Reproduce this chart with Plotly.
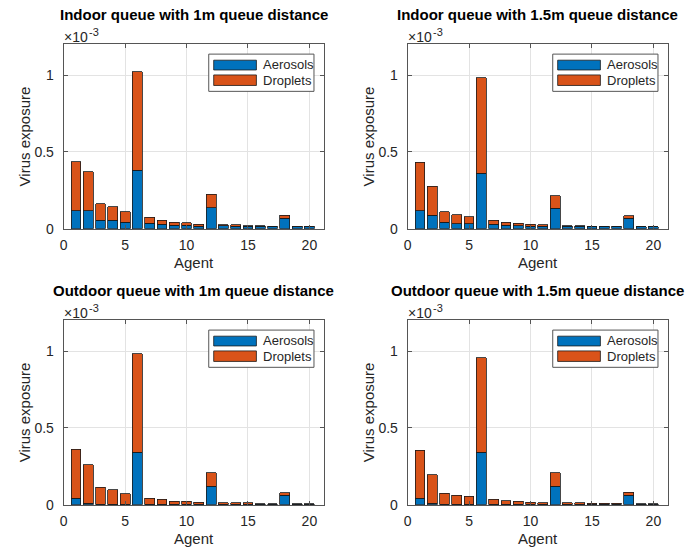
import plotly.graph_objects as go

# Agent indices (x axis)
agents = list(range(1, 21))

# Virus exposure per agent, in units of 1e-3 (axis carries the x10^-3 multiplier)
indoor_1m_aerosols = [0.118, 0.116, 0.056, 0.054, 0.043, 0.381, 0.034, 0.028, 0.021, 0.021,
                      0.017, 0.135, 0.019, 0.015, 0.015, 0.017, 0.016, 0.069, 0.014, 0.013]
indoor_1m_droplets = [0.317, 0.254, 0.107, 0.089, 0.066, 0.640, 0.039, 0.028, 0.020, 0.017,
                      0.011, 0.088, 0.005, 0.009, 0.004, 0.002, 0.001, 0.019, 0.001, 0.002]

indoor_15m_aerosols = [0.118, 0.088, 0.041, 0.032, 0.032, 0.362, 0.028, 0.021, 0.019, 0.017,
                       0.017, 0.133, 0.017, 0.016, 0.015, 0.015, 0.015, 0.069, 0.012, 0.012]
indoor_15m_droplets = [0.315, 0.188, 0.070, 0.060, 0.047, 0.621, 0.028, 0.022, 0.015, 0.011,
                       0.009, 0.081, 0.002, 0.003, 0.002, 0.002, 0.002, 0.015, 0.001, 0.001]

outdoor_1m_aerosols = [0.041, 0.009, 0.002, 0.002, 0.002, 0.340, 0.002, 0.002, 0.001, 0.001,
                       0.001, 0.120, 0.001, 0.001, 0.001, 0.001, 0.001, 0.060, 0.001, 0.001]
outdoor_1m_droplets = [0.319, 0.250, 0.111, 0.094, 0.069, 0.641, 0.041, 0.032, 0.020, 0.020,
                       0.014, 0.086, 0.010, 0.010, 0.010, 0.005, 0.005, 0.019, 0.005, 0.005]

outdoor_15m_aerosols = [0.041, 0.009, 0.002, 0.002, 0.002, 0.340, 0.002, 0.002, 0.001, 0.001,
                        0.001, 0.120, 0.001, 0.001, 0.001, 0.001, 0.001, 0.060, 0.001, 0.001]
outdoor_15m_droplets = [0.314, 0.186, 0.071, 0.058, 0.052, 0.615, 0.032, 0.024, 0.020, 0.016,
                        0.012, 0.086, 0.010, 0.010, 0.008, 0.008, 0.008, 0.021, 0.005, 0.005]

titles = ["Indoor queue with 1m queue distance",
          "Indoor queue with 1.5m queue distance",
          "Outdoor queue with 1m queue distance",
          "Outdoor queue with 1.5m queue distance"]
series = [(indoor_1m_aerosols, indoor_1m_droplets),
          (indoor_15m_aerosols, indoor_15m_droplets),
          (outdoor_1m_aerosols, outdoor_1m_droplets),
          (outdoor_15m_aerosols, outdoor_15m_droplets)]
series_names = ["Aerosols", "Droplets"]
y_ticks = [0, 0.5, 1]
y_tick_labels = ["0", "0.5", "1"]
x_ticks = [0, 5, 10, 15, 20]
exp_base, exp_power = "\u00d710", "-3"

BLUE = "#0072BD"
ORANGE = "#D95319"
FONT = "Liberation Sans, Arial, Helvetica, sans-serif"
TXT = "#262626"

W, H = 690, 556
# pixel boxes of the four axes: (left, right, top, bottom)
boxes = [(60, 322, 45, 232), (406, 668, 45, 232),
         (60, 322, 325, 512), (406, 668, 325, 512)]

fig = go.Figure()
layout = dict(width=W, height=H, margin=dict(l=0, r=0, t=0, b=0),
              paper_bgcolor="white", plot_bgcolor="white",
              barmode="stack", bargap=0.2, showlegend=False,
              font=dict(family=FONT, color=TXT, size=13))
annotations = []
shapes = []


def px_note(text, x, y, size, color=TXT, xanchor="left", angle=0):
    """Annotation placed by pixel position (from top-left of the page)."""
    return dict(text=text, x=x / W, y=1 - y / H, xref="paper", yref="paper",
                showarrow=False, xanchor=xanchor, yanchor="middle", textangle=angle,
                font=dict(family=FONT, size=size, color=color))


for i, ((aer, dro), title, (l, r, t, b)) in enumerate(zip(series, titles, boxes)):
    n = "" if i == 0 else str(i + 1)
    xa, ya = "x" + n, "y" + n
    for vals, color, name in zip((aer, dro), (BLUE, ORANGE), series_names):
        fig.add_trace(go.Bar(x=agents, y=vals, name=name, marker_color=color,
                             marker_line=dict(color="#1a1a1a", width=0.8),
                             width=0.8, xaxis=xa, yaxis=ya))
    axis_common = dict(showline=True, linecolor="#555555", linewidth=1, mirror="ticks",
                       ticks="inside", ticklen=4, tickcolor="#555555",
                       showgrid=True, gridcolor="#e3e3e3", gridwidth=1, zeroline=False,
                       tickfont=dict(family=FONT, size=14, color=TXT))
    layout["xaxis" + n] = dict(domain=[l / W, r / W], range=[0, 21.2], anchor=ya,
                               tickvals=x_ticks, ticklabelstandoff=4, **axis_common)
    layout["yaxis" + n] = dict(domain=[1 - b / H, 1 - t / H], range=[0, 1.2], anchor=xa,
                               tickvals=y_ticks, ticktext=y_tick_labels,
                               ticklabelstandoff=6, **axis_common)
    cx = (l + r) / 2
    # title
    annotations.append(px_note("<b>" + title + "</b>", cx, t - 30, 15, "black", "center"))
    # exponent multiplier above the y axis
    annotations.append(px_note(exp_base, l - 2, t - 7, 14))
    annotations.append(px_note(exp_power, l + 23, t - 13, 11))
    # axis labels
    annotations.append(px_note("Agent", cx, b + 34, 15, xanchor="center"))
    annotations.append(px_note("Virus exposure", l - 39, (t + b) / 2, 15,
                               xanchor="center", angle=-90))
    # legend box
    xd, yd = xa + " domain", ya + " domain"
    shapes.append(dict(type="rect", xref=xd, yref=yd, x0=0.557, x1=0.961, y0=0.745, y1=0.947,
                       fillcolor="white", line=dict(color="#555555", width=1)))
    for (y0, y1, ty), color, name in zip([(0.861, 0.914, 0.888), (0.777, 0.834, 0.804)],
                                         (BLUE, ORANGE), series_names):
        shapes.append(dict(type="rect", xref=xd, yref=yd, x0=0.576, x1=0.740, y0=y0, y1=y1,
                           fillcolor=color, line=dict(color="#1a1a1a", width=0.8)))
        annotations.append(dict(text=name, x=0.757, y=ty, xref=xd, yref=yd, showarrow=False,
                                xanchor="left", yanchor="middle",
                                font=dict(family=FONT, size=13, color=TXT)))

layout["annotations"] = annotations
layout["shapes"] = shapes
fig.update_layout(**layout)
fig.write_html("out.html")
